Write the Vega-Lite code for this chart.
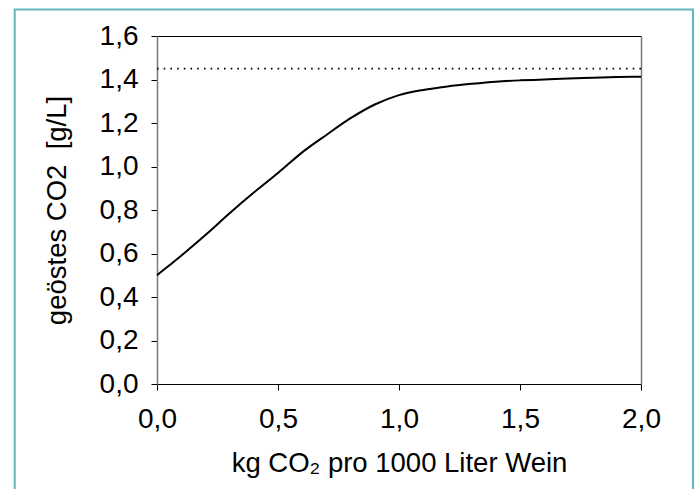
{
  "$schema": "https://vega.github.io/schema/vega-lite/v6.json",
  "autosize": "none",
  "width": 484,
  "height": 348,
  "padding": {"left": 157, "top": 36, "right": 58, "bottom": 105},
  "background": "white",
  "config": {
    "view": {"stroke": null},
    "font": "Liberation Sans",
    "axis": {
      "grid": false,
      "labelFont": "Liberation Sans",
      "titleFont": "Liberation Sans",
      "labelFontSize": 28,
      "titleFontSize": 27.5,
      "titleFontWeight": "normal",
      "labelColor": "#000",
      "titleColor": "#000",
      "tickColor": "#000",
      "tickSize": 6,
      "tickWidth": 1
    }
  },
  "resolve": {"axis": {"x": "independent", "y": "independent"}},
  "layer": [
    {
      "data": {"values": [{}]},
      "mark": {"type": "rect", "fill": null, "stroke": "#62b6be", "strokeWidth": 2, "clip": false},
      "encoding": {
        "x": {"datum": -0.588, "type": "quantitative", "scale": {"domain": [0, 2], "nice": false}, "axis": null},
        "x2": {"datum": 2.215},
        "y": {"datum": 1.722, "type": "quantitative", "scale": {"domain": [0, 1.6], "nice": false}, "axis": null},
        "y2": {"datum": -0.55}
      }
    },
    {
      "data": {"values": [{"x0": 0, "x1": 2, "limit": 1.45}]},
      "mark": {"type": "rule", "stroke": "#000", "strokeWidth": 1.6, "strokeDash": [1.6, 5.1]},
      "encoding": {
        "x": {"field": "x0", "type": "quantitative", "scale": {"domain": [0, 2], "nice": false},
          "axis": {"orient": "top", "labels": false, "ticks": false, "title": null, "domainColor": "#000", "domainWidth": 1.2}},
        "x2": {"field": "x1"},
        "y": {"field": "limit", "type": "quantitative", "scale": {"domain": [0, 1.6], "nice": false},
          "axis": {"orient": "right", "labels": false, "ticks": false, "title": null, "domainColor": "#7a7a7a", "domainWidth": 1.5}}
      }
    },
    {
      "data": {"values": [
        {"kg": 0.0, "co2": 0.50},
        {"kg": 0.05, "co2": 0.545},
        {"kg": 0.1, "co2": 0.59},
        {"kg": 0.2, "co2": 0.685},
        {"kg": 0.3, "co2": 0.785},
        {"kg": 0.4, "co2": 0.88},
        {"kg": 0.5, "co2": 0.97},
        {"kg": 0.6, "co2": 1.065},
        {"kg": 0.7, "co2": 1.145},
        {"kg": 0.8, "co2": 1.222},
        {"kg": 0.9, "co2": 1.285},
        {"kg": 1.0, "co2": 1.328},
        {"kg": 1.1, "co2": 1.352},
        {"kg": 1.2, "co2": 1.368},
        {"kg": 1.3, "co2": 1.380},
        {"kg": 1.4, "co2": 1.390},
        {"kg": 1.5, "co2": 1.396},
        {"kg": 1.6, "co2": 1.400},
        {"kg": 1.7, "co2": 1.405},
        {"kg": 1.8, "co2": 1.408},
        {"kg": 1.9, "co2": 1.411},
        {"kg": 2.0, "co2": 1.413}
      ]},
      "mark": {"type": "line", "stroke": "#000", "strokeWidth": 2, "interpolate": "monotone"},
      "encoding": {
        "x": {"field": "kg", "type": "quantitative", "scale": {"domain": [0, 2], "nice": false},
          "axis": {"orient": "bottom", "values": [0, 0.5, 1, 1.5, 2], "labelExpr": "replace(format(datum.value, '.1f'), '.', ',')",
            "title": "kg CO₂ pro 1000 Liter Wein", "domainColor": "#000", "domainWidth": 1.2, "labelPadding": 15, "titlePadding": 16, "labelFlush": false}},
        "y": {"field": "co2", "type": "quantitative", "scale": {"domain": [0, 1.6], "nice": false},
          "axis": {"orient": "left", "values": [0, 0.2, 0.4, 0.6, 0.8, 1.0, 1.2, 1.4, 1.6], "labelExpr": "replace(format(datum.value, '.1f'), '.', ',')",
            "title": "geöstes CO2 \u00a0[g/L]", "domainColor": "#7a7a7a", "domainWidth": 1.5, "labelPadding": 13, "titlePadding": 28, "labelFlush": false}}
      }
    }
  ]
}
